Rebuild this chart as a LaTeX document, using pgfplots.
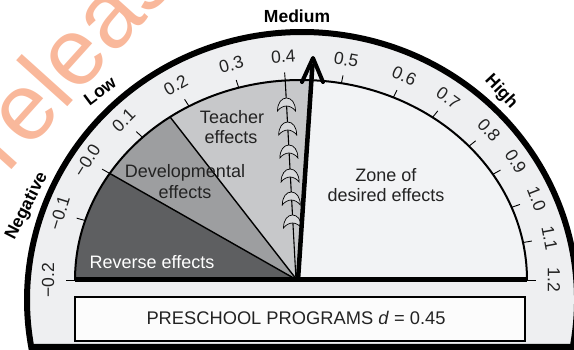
\documentclass[border=0pt]{standalone}
\usepackage{fontspec}
\setmainfont{Liberation Sans}
\usepackage{pgfplots}
\usepackage{pgfplotstable}
\pgfplotsset{compat=1.18}

\definecolor{band}{RGB}{238,239,241}
\definecolor{zone}{RGB}{242,243,245}
\definecolor{cTea}{RGB}{199,200,202}
\definecolor{cDev}{RGB}{157,158,160}
\definecolor{cRev}{RGB}{94,95,97}
\definecolor{ringgray}{RGB}{215,216,218}
\definecolor{boxfill}{RGB}{252,252,252}
\definecolor{txt}{RGB}{35,35,35}
\definecolor{wm}{RGB}{249,184,155}

% scale ticks: effect size and where it sits on the dial (degrees)
\pgfplotstableread{
val  ang   lab
-0.2 180   −0.2
-0.1 162.7 −0.1
0.0  147.8 −0.0
0.1  134.5 0.1
0.2  119.7 0.2
0.3  106   0.3
0.4  94    0.4
0.5  79.7  0.5
0.6  65.9  0.6
0.7  54.4  0.7
0.8  42    0.8
0.9  31.9  0.9
1.0  21.3  1.0
1.1  10.8  1.1
1.2  0     1.2
}\ticks

% binder ring on the 0.4 hinge line
\newcommand{\ring}[2]{\filldraw[fill=ringgray, draw=black, line width=0.7pt]
  (#1,#2) ++(-9pt,-7pt) .. controls +(0pt,8pt) and +(-5pt,0pt) .. ++(9pt,13pt)
  .. controls +(5pt,0pt) and +(0pt,8pt) .. ++(9pt,-13pt)
  .. controls +(-2pt,3pt) and +(3pt,0pt) .. ++(-9pt,5pt)
  .. controls +(-3pt,0pt) and +(2pt,3pt) .. ++(-9pt,-5pt) -- cycle;}

\begin{document}
\begin{tikzpicture}
\begin{axis}[
    at={(0,0)}, anchor=south west,
    x=1pt, y=1pt, xmin=0, xmax=574, ymin=0, ymax=350,
    y dir=reverse, hide axis, clip=true]

% watermark
\node[rotate=48, anchor=base west, text=wm, font=\fontsize{95}{95}\selectfont] at (5,177) {release};

% outer band
\filldraw[fill=band, draw=black, line width=6pt]
  ({302+275*cos(-10.1)},{300+268*sin(10.1)})
  arc[start angle=-10.1, end angle=190.1, x radius=275pt, y radius=268pt] -- cycle;

% zones: reverse (-0.2..0.0), developmental (0.0..0.15), teacher (0.15..0.45), desired (0.45..1.2)
\fill[cRev] (297,280) -- (75,280)
  arc[start angle=180, end angle=147.8, x radius=226pt, y radius=200pt] -- cycle;
\fill[cDev] (297,280) -- ({301+226*cos(147.8)},{280-200*sin(147.8)})
  arc[start angle=147.8, end angle=125.4, x radius=226pt, y radius=200pt] -- cycle;
\fill[cTea] (297,280) -- ({301+226*cos(125.4)},{280-200*sin(125.4)})
  arc[start angle=125.4, end angle=87.2, x radius=226pt, y radius=200pt] -- cycle;
\fill[zone] (298,280) -- ({301+226*cos(87.2)},{280-200*sin(87.2)})
  arc[start angle=87.2, end angle=0, x radius=226pt, y radius=200pt] -- cycle;

\draw[line width=1.4pt] (297,280) -- ({301+226*cos(147.8)},{280-200*sin(147.8)});
\draw[line width=1.4pt] (297,280) -- ({301+226*cos(125.4)},{280-200*sin(125.4)});
\draw[line width=1.1pt] (296,280) -- ({301+226*cos(94)},{280-200*sin(94)});

% inner arc and base line
\draw[line width=2pt] (75,280)
  arc[start angle=180, end angle=0, x radius=226pt, y radius=200pt];
\draw[line width=5pt] (75,280) -- (527,280);

% rings on the hinge line
\ring{286.5}{104}
\ring{287.7}{128}
\ring{288.9}{151}
\ring{290.1}{175}
\ring{291.3}{198}
\ring{292.5}{221}

% pointer at d = 0.45
\addplot[black, line width=4.5pt] coordinates {(298,280) (312.5,64)};
\addplot[black, line width=4pt, line join=round, line cap=round]
  coordinates {(302,82) (313,58) (323,82)};

% tick marks and labels
\addplot[black, line width=0.9pt,
  quiver={u={9*cos(\thisrow{ang})}, v={-8*sin(\thisrow{ang})}}]
  table[x expr={301+226*cos(\thisrow{ang})}, y expr={280-200*sin(\thisrow{ang})}] {\ticks};
\addplot[draw=none, mark=none, point meta=explicit symbolic,
  nodes near coords,
  visualization depends on={\thisrow{ang}-90 \as \rot},
  every node near coord/.append style={anchor=center, rotate=\rot, text=txt,
     inner sep=0pt, font=\fontsize{17.5}{19}\selectfont}]
  table[x expr={301+253*cos(\thisrow{ang})}, y expr={280-224*sin(\thisrow{ang})}, meta=lab] {\ticks};

% zone labels
\begin{scope}[every node/.style={anchor=base, text=txt, font=\fontsize{18}{20}\selectfont}]
\node at (232,124) {Teacher};
\node at (231,144) {effects};
\node at (185,178) {Developmental};
\node at (185,199) {effects};
\node at (386,182) {Zone of};
\node at (386,202) {desired effects};
\node[text=white] at (152,269) {Reverse effects};
\end{scope}

% outer labels
\begin{scope}[every node/.style={anchor=center, text=black, font=\fontsize{17.5}{20}\selectfont\bfseries}]
\node at (297,16) {Medium};
\node[rotate=37] at (100,91) {Low};
\node[rotate=-47] at (501,92) {High};
\node[rotate=63] at (27,206) {Negative};
\end{scope}

% result box
\filldraw[fill=boxfill, draw=black, line width=2.5pt] (75,297) rectangle (525,341);
\node[anchor=base, text=txt, font=\fontsize{18.3}{20}\selectfont] at (296,325)
  {PRESCHOOL PROGRAMS \textit{d} = 0.45};

\end{axis}
\pgfresetboundingbox
\path[use as bounding box] (0,0) rectangle (574pt,350pt);
\end{tikzpicture}
\end{document}
